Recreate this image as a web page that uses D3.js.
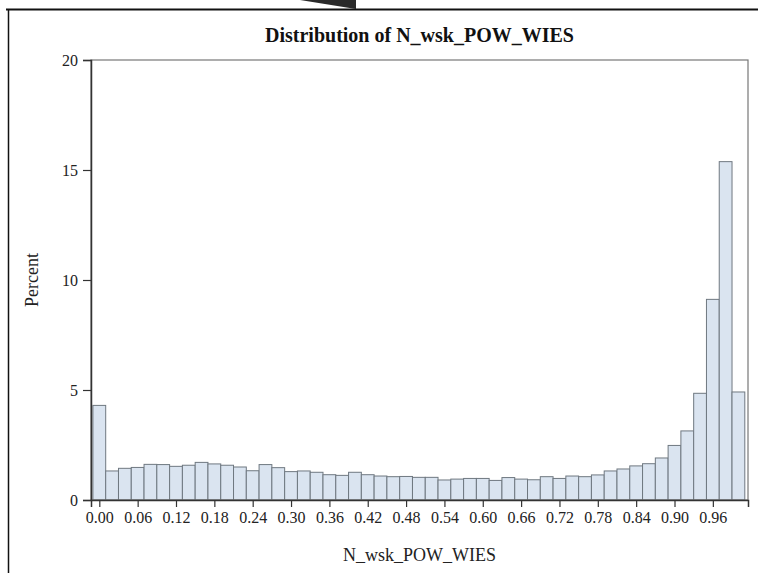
<!DOCTYPE html>
<html><head><meta charset="utf-8">
<script src="https://cdn.jsdelivr.net/npm/d3@7"></script>
<style>body{margin:0;background:#fff}svg{display:block}</style>
</head><body>
<svg id="c" width="758" height="573"></svg>
<script>
const binCenters = [0.00,0.02,0.04,0.06,0.08,0.10,0.12,0.14,0.16,0.18,0.20,0.22,0.24,0.26,0.28,0.30,0.32,0.34,0.36,0.38,0.40,0.42,0.44,0.46,0.48,0.50,0.52,0.54,0.56,0.58,0.60,0.62,0.64,0.66,0.68,0.70,0.72,0.74,0.76,0.78,0.80,0.82,0.84,0.86,0.88,0.90,0.92,0.94,0.96,0.98,1.00];
const percents = [4.30,1.32,1.44,1.48,1.62,1.61,1.53,1.58,1.71,1.64,1.58,1.50,1.33,1.61,1.47,1.29,1.32,1.26,1.15,1.12,1.26,1.15,1.09,1.06,1.07,1.03,1.03,0.91,0.95,0.98,0.98,0.89,1.02,0.95,0.92,1.06,0.98,1.09,1.06,1.14,1.32,1.41,1.55,1.65,1.91,2.48,3.14,4.85,9.12,15.38,4.91];
const xTicks = [0.00,0.06,0.12,0.18,0.24,0.30,0.36,0.42,0.48,0.54,0.60,0.66,0.72,0.78,0.84,0.90,0.96];
const yTicks = [0,5,10,15,20];
const binWidth = 0.02;
const title = "Distribution of N_wsk_POW_WIES";
const xLabel = "N_wsk_POW_WIES";
const yLabel = "Percent";

const svg = d3.select("#c");
const L = 91, R = 748, T = 60, B = 500;
const x = d3.scaleLinear().domain([-0.013, 1.015]).range([L, R]);
const y = d3.scaleLinear().domain([0, 20]).range([B, T]);

// outer frame pieces and decoration
svg.append("polygon").attr("points", "300,0 356,0 356,9").attr("fill", "#2a2a2a");
svg.append("line").attr("x1", 6).attr("x2", 758).attr("y1", 9.5).attr("y2", 9.5).attr("stroke", "#111").attr("stroke-width", 2);
svg.append("line").attr("x1", 8.5).attr("x2", 8.5).attr("y1", 9).attr("y2", 573).attr("stroke", "#111").attr("stroke-width", 1.5);

// bars
const data = binCenters.map((c, i) => ({c, v: percents[i]}));
svg.append("g").selectAll("rect").data(data).join("rect")
  .attr("x", d => x(d.c - binWidth / 2))
  .attr("width", d => x(d.c + binWidth / 2) - x(d.c - binWidth / 2))
  .attr("y", d => y(d.v))
  .attr("height", d => y(0) - y(d.v))
  .attr("fill", "#dae4f0")
  .attr("stroke", "#6f7880")
  .attr("stroke-width", 1);

// plot frame
svg.append("rect").attr("x", L).attr("y", T).attr("width", R - L).attr("height", B - T)
  .attr("fill", "none").attr("stroke", "#777").attr("stroke-width", 1.2);

// axes
const xAxis = d3.axisBottom(x).tickValues(xTicks).tickFormat(d3.format(".2f")).tickSizeOuter(0).tickSize(7).tickPadding(5);
const gx = svg.append("g").attr("transform", `translate(0,${B})`).call(xAxis)
  .attr("font-family", "Liberation Serif, serif").attr("font-size", 16);
gx.select(".domain").attr("stroke", "#333").attr("stroke-width", 1.5);
gx.selectAll(".tick line").attr("stroke", "#333").attr("stroke-width", 1.2);
gx.selectAll(".tick text").attr("fill", "#222");

const yAxis = d3.axisLeft(y).tickValues(yTicks).tickSizeOuter(0).tickSize(8).tickPadding(5);
const gy = svg.append("g").attr("transform", `translate(${L},0)`).call(yAxis)
  .attr("font-family", "Liberation Serif, serif").attr("font-size", 16);
gy.select(".domain").attr("stroke", "#333").attr("stroke-width", 1.5);
gy.selectAll(".tick line").attr("stroke", "#333").attr("stroke-width", 1.2);
gy.selectAll(".tick text").attr("fill", "#222");

// labels
svg.append("text").attr("x", (L + R) / 2).attr("y", 42).attr("text-anchor", "middle")
  .attr("font-family", "Liberation Serif, serif").attr("font-weight", "bold").attr("font-size", 20)
  .attr("fill", "#111").text(title);
svg.append("text").attr("x", (L + R) / 2).attr("y", 561).attr("text-anchor", "middle")
  .attr("font-family", "Liberation Serif, serif").attr("font-size", 18).attr("fill", "#222").text(xLabel);
svg.append("text").attr("transform", `translate(38,${(T + B) / 2}) rotate(-90)`).attr("text-anchor", "middle")
  .attr("font-family", "Liberation Serif, serif").attr("font-size", 18).attr("fill", "#222").text(yLabel);
</script>
</body></html>
